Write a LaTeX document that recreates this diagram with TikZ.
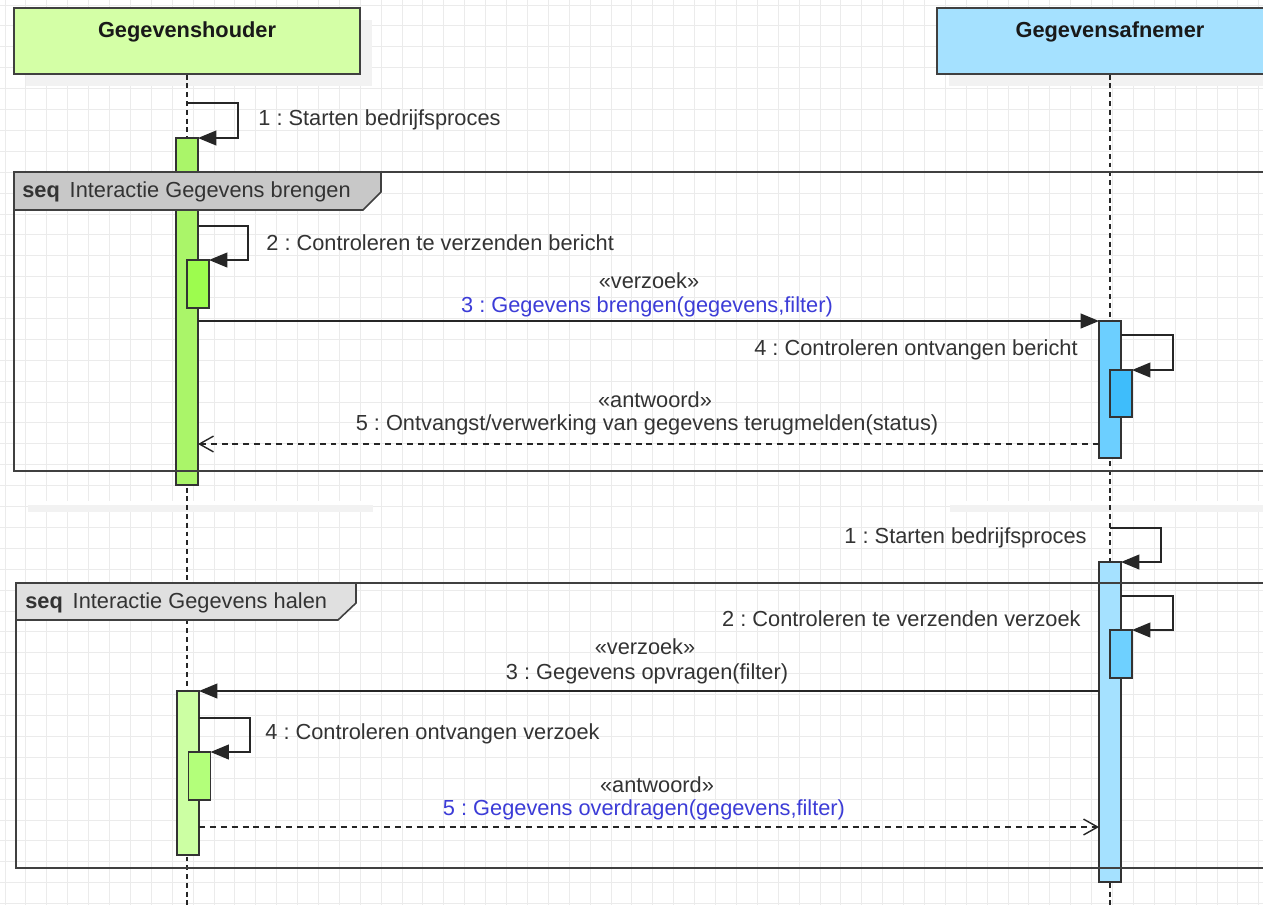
\documentclass[tikz,border=0pt]{standalone}
\usepackage{fontspec}
\setmainfont{Liberation Sans}
\frenchspacing
\usetikzlibrary{arrows.meta,shadows}
\newcommand{\unitpx}{0.02cm}
\newcommand{\msgfont}{\fontsize{12.4}{15}\selectfont}
\definecolor{headgreen}{RGB}{212,255,166}
\definecolor{headblue}{RGB}{165,225,255}
\definecolor{actgreenA}{RGB}{170,245,105}
\definecolor{actgreenAb}{RGB}{157,252,78}
\definecolor{actgreenC}{RGB}{204,255,163}
\definecolor{actgreenCb}{RGB}{179,255,122}
\definecolor{actblueB}{RGB}{108,207,255}
\definecolor{actblueBb}{RGB}{62,189,251}
\definecolor{actblueC}{RGB}{165,225,255}
\definecolor{actblueCb}{RGB}{110,208,255}
\definecolor{tabdark}{RGB}{200,200,200}
\definecolor{tablight}{RGB}{224,224,224}
\definecolor{callblue}{RGB}{60,60,215}

\tikzset{
  gridline/.style={draw=black!8, line width=0.5pt},
  lifeline/.style={draw=black!85, line width=0.8pt, dash pattern=on 2.8pt off 2.2pt},
  header/.style={draw=black!75, line width=0.8pt, minimum width=346*\unitpx, minimum height=66*\unitpx, inner sep=0pt,
    drop shadow={shadow xshift=0.24cm, shadow yshift=-0.24cm, fill=black!5, opacity=1}},
  headlabel/.style={font=\msgfont\bfseries, text=black!90, inner sep=0pt, yshift=0.19cm},
  actbar/.style={draw=black!80, line width=0.7pt, minimum width=22*\unitpx, inner sep=0pt, outer sep=0pt, anchor=north},
  msglabel/.style={font=\msgfont, text=black!80, inner sep=0pt},
  synchmsg/.style={draw=black!85, line width=0.8pt, -{Triangle[length=10.5pt,width=8.5pt]}},
  replymsg/.style={draw=black!85, line width=0.8pt, dash pattern=on 3.4pt off 2.8pt, -{Straight Barb[length=8pt,width=9pt]}},
  frameline/.style={draw=black!75, line width=0.9pt},
}

\begin{document}
\begin{tikzpicture}[x=\unitpx, y=-\unitpx]

\useasboundingbox (0,0) rectangle (1263,904);
\clip (0,0) rectangle (1263,904);

% background grid
\fill[white] (0,0) rectangle (1263,904);
\draw[gridline, step=0.418cm, shift={(5,5)}] (-5,904) grid (1263,-5);
\fill[white] (28,501) rectangle (373,505);
\fill[white] (950,501) rectangle (1263,505);
\fill[black!5] (28,505) rectangle (373,512);
\fill[black!5] (950,505) rectangle (1263,512);

% lifelines
\node[header, fill=headgreen, label={[headlabel]center:Gegevenshouder}] (headA) at (187,41) {};
\node[header, fill=headblue, label={[headlabel]center:Gegevensafnemer}] (headB) at (1110,41) {};
\coordinate (bottom) at (0,910);
\draw[lifeline] (headA.south) -- (headA.south |- bottom);
\draw[lifeline] (headB.south) -- (headB.south |- bottom);

% activation bars
\node[actbar, fill=actgreenA, minimum height=347*\unitpx] (actA1) at (187,138) {};
\node[actbar, fill=actgreenAb, minimum height=48*\unitpx] (actA1b) at (198,260) {};
\node[actbar, fill=actblueB, minimum height=137*\unitpx] (actB1) at (1110,321) {};
\node[actbar, fill=actblueBb, minimum height=47*\unitpx] (actB1b) at (1121,370) {};
\node[actbar, fill=actblueC, minimum height=320*\unitpx] (actB2) at (1110,562) {};
\node[actbar, fill=actblueCb, minimum height=48*\unitpx] (actB2b) at (1121,630) {};
\node[actbar, fill=actgreenC, minimum height=164*\unitpx] (actA2) at (188,691) {};
\node[actbar, fill=actgreenCb, minimum height=48*\unitpx] (actA2b) at (199.5,752) {};

% combined fragments, drawn over the bars
\draw[frameline] (14,172) rectangle (1280,471);
\draw[frameline] (16,583) rectangle (1280,868);
\filldraw[frameline, fill=tabdark] (14,172) -- (381,172) -- (381,192) -- (363,210) -- (14,210) -- cycle;
\filldraw[frameline, fill=tablight] (16,583) -- (356,583) -- (356,603) -- (338,620) -- (16,620) -- cycle;
\node[msglabel, anchor=west] (seqA) at (22,192) {\textbf{seq}\hspace{0.45em}Interactie Gegevens brengen};
\node[msglabel, anchor=west] (seqB) at (25,603) {\textbf{seq}\hspace{0.45em}Interactie Gegevens halen};

% Gegevens brengen
\coordinate (s1) at (0,103);
\coordinate (s2) at (0,226);
\coordinate (s4) at (0,335);
\coordinate (r5) at (0,444);
\draw[synchmsg] (headA.south |- s1) -- ++(51,0) |- (actA1.north east);
\draw[synchmsg] (actA1.east |- s2) -- ++(50,0) |- (actA1b.north east);
\draw[synchmsg] (actA1.east |- actB1.north) -- (actB1.north west);
\draw[synchmsg] (actB1.east |- s4) -- ++(52,0) |- (actB1b.north east);
\draw[replymsg] (actB1.west |- r5) -- (actA1.east |- r5);

\node[msglabel, anchor=west] (lblS1) at (258,120) {1 : Starten bedrijfsproces};
\node[msglabel, anchor=west] (lblS2) at (266,243) {2 : Controleren te verzenden bericht};
\node[msglabel] (stereoM3) at (649,281) {«verzoek»};
\node[msglabel, text=callblue] (lblM3) at (647,307) {3 : Gegevens brengen(gegevens,filter)};
\node[msglabel, anchor=east] (lblS4) at (1078,350) {4 : Controleren ontvangen bericht};
\node[msglabel] (stereoR5) at (655,400) {«antwoord»};
\node[msglabel] (lblR5) at (647,425) {5 : Ontvangst/verwerking van gegevens terugmelden(status)};

% Gegevens halen
\coordinate (s1b) at (0,528);
\coordinate (s2b) at (0,596);
\coordinate (s4b) at (0,718);
\coordinate (r5b) at (0,827);
\draw[synchmsg] (headB.south |- s1b) -- ++(51,0) |- (actB2.north east);
\draw[synchmsg] (actB2.east |- s2b) -- ++(52,0) |- (actB2b.north east);
\draw[synchmsg] (actB2.west |- actA2.north) -- (actA2.north east);
\draw[synchmsg] (actA2.east |- s4b) -- ++(51,0) |- (actA2b.north east);
\draw[replymsg] (actA2.east |- r5b) -- (actB2.west |- r5b);

\node[msglabel, anchor=east] (lblS1b) at (1087,538) {1 : Starten bedrijfsproces};
\node[msglabel, anchor=east] (lblS2b) at (1081,619) {2 : Controleren te verzenden verzoek};
\node[msglabel] (stereoM3b) at (645,647) {«verzoek»};
\node[msglabel] (lblM3b) at (647,674) {3 : Gegevens opvragen(filter)};
\node[msglabel, anchor=west] (lblS4b) at (265,734) {4 : Controleren ontvangen verzoek};
\node[msglabel] (stereoR5b) at (657,785) {«antwoord»};
\node[msglabel, text=callblue] (lblR5b) at (644,810) {5 : Gegevens overdragen(gegevens,filter)};

\end{tikzpicture}
\end{document}
